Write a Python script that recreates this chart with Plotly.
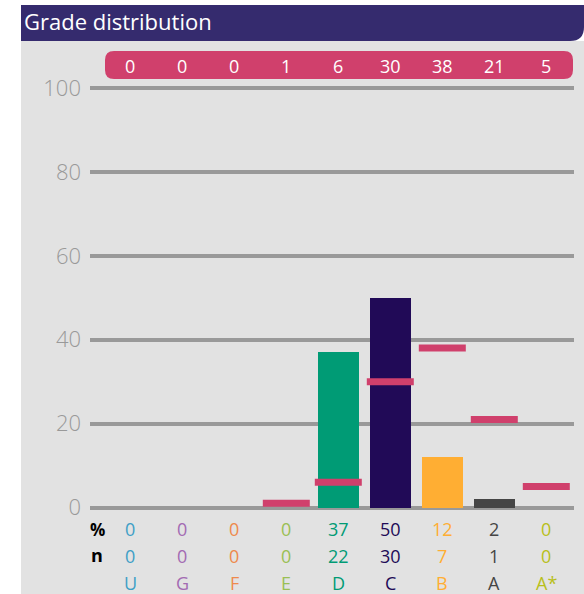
import plotly.graph_objects as go

grades = ["U", "G", "F", "E", "D", "C", "B", "A", "A*"]
pct = [0, 0, 0, 0, 37, 50, 12, 2, 0]
counts = [0, 0, 0, 0, 22, 30, 7, 1, 0]
comparison = [0, 0, 0, 1, 6, 30, 38, 21, 5]
grade_colors = ["#3e9fc6", "#a36bb3", "#ee8a4d", "#9abf54", "#009b75",
                "#210a57", "#ffae33", "#454545", "#b8bf1b"]
y_ticks = [0, 20, 40, 60, 80, 100]

W, H = 584, 594
L, R, T, B = 90, 574, 60, 520
PW, PH = R - L, B - T
FONT = "Open Sans"


def px(x):
    return (x - L) / PW


def py(y):
    return (B - y) / PH


def rrect(x0, y0, x1, y1, r_tl=0, r_tr=0, r_br=0, r_bl=0):
    pts = []
    pts.append(f"M {px(x0 + r_tl)},{py(y0)}")
    pts.append(f"L {px(x1 - r_tr)},{py(y0)}")
    if r_tr:
        pts.append(f"Q {px(x1)},{py(y0)} {px(x1)},{py(y0 + r_tr)}")
    pts.append(f"L {px(x1)},{py(y1 - r_br)}")
    if r_br:
        pts.append(f"Q {px(x1)},{py(y1)} {px(x1 - r_br)},{py(y1)}")
    pts.append(f"L {px(x0 + r_bl)},{py(y1)}")
    if r_bl:
        pts.append(f"Q {px(x0)},{py(y1)} {px(x0)},{py(y1 - r_bl)}")
    pts.append(f"L {px(x0)},{py(y0 + r_tl)}")
    if r_tl:
        pts.append(f"Q {px(x0)},{py(y0)} {px(x0 + r_tl)},{py(y0)}")
    pts.append("Z")
    return " ".join(pts)


xs = list(range(len(grades)))
x0_data = (90 - 130.3) / 52.0
x1_data = x0_data + PW / 52.0
y_per_px = 1 / 4.195
y_top = (507.5 - T) * y_per_px
y_bot = (507.5 - B) * y_per_px

fig = go.Figure()
fig.add_trace(go.Bar(
    x=xs, y=pct, width=0.79,
    marker=dict(color=grade_colors, line=dict(width=0)),
    hoverinfo="skip", showlegend=False,
))
mx = [i for i, v in zip(xs, comparison) if v > 0]
my = [v for v in comparison if v > 0]
fig.add_trace(go.Scatter(
    x=mx, y=my, mode="markers",
    marker=dict(symbol="line-ew", size=47 / 1.4,
                line=dict(width=7, color="#d0406c")),
    hoverinfo="skip", showlegend=False,
))

shapes = [
    # gray panel
    dict(type="rect", xref="paper", yref="paper",
         x0=px(21), x1=px(600), y0=py(41), y1=py(620),
         fillcolor="#e2e2e2", line=dict(width=0), layer="below"),
    # title bar
    dict(type="path", xref="paper", yref="paper",
         path=rrect(21, 5, 584, 41, r_br=14),
         fillcolor="#352b6e", line=dict(width=0), layer="below"),
    # pink comparison bar
    dict(type="path", xref="paper", yref="paper",
         path=rrect(105, 51, 573, 79, 9, 9, 9, 9),
         fillcolor="#d0406c", line=dict(width=0), layer="below"),
]

ann = [dict(xref="paper", yref="paper", x=px(22), y=py(21),
            text="Grade distribution", showarrow=False,
            xanchor="left", yanchor="middle",
            font=dict(family=FONT, size=22, color="white"))]
for i, g in enumerate(grades):
    ann.append(dict(xref="x", yref="paper", x=i, y=py(66),
                    text=str(comparison[i]), showarrow=False,
                    xanchor="center", yanchor="middle",
                    font=dict(family=FONT, size=18, color="white")))
    ann.append(dict(xref="x", yref="paper", x=i, y=py(529),
                    text=str(pct[i]), showarrow=False,
                    xanchor="center", yanchor="middle",
                    font=dict(family=FONT, size=18, color=grade_colors[i])))
    ann.append(dict(xref="x", yref="paper", x=i, y=py(556),
                    text=str(counts[i]), showarrow=False,
                    xanchor="center", yanchor="middle",
                    font=dict(family=FONT, size=18, color=grade_colors[i])))
    ann.append(dict(xref="x", yref="paper", x=i, y=py(583),
                    text=g, showarrow=False,
                    xanchor="center", yanchor="middle",
                    font=dict(family=FONT, size=18, color=grade_colors[i])))
ann.append(dict(xref="paper", yref="paper", x=px(97), y=py(529),
                text="<b>%</b>", showarrow=False, xanchor="center",
                yanchor="middle", font=dict(family=FONT, size=17, color="black")))
ann.append(dict(xref="paper", yref="paper", x=px(97), y=py(555),
                text="<b>n</b>", showarrow=False, xanchor="center",
                yanchor="middle", font=dict(family=FONT, size=18, color="black")))

fig.update_layout(
    width=W, height=H,
    margin=dict(l=L, r=W - R, t=T, b=H - B, pad=0),
    paper_bgcolor="white", plot_bgcolor="rgba(0,0,0,0)",
    shapes=shapes, annotations=ann,
    bargap=0, barmode="overlay",
    xaxis=dict(range=[x0_data, x1_data], showgrid=False, zeroline=False,
               showticklabels=False, showline=False, fixedrange=True),
    yaxis=dict(range=[y_bot, y_top], tickvals=y_ticks,
               showgrid=True, gridcolor="#999999", gridwidth=4,
               zeroline=False, showline=False, ticks="",
               ticklabelstandoff=8,
               tickfont=dict(family=FONT, size=22, color="#999999", weight=300),
               fixedrange=True),
    font=dict(family=FONT),
)

fig.write_html(
    "out.html",
    config={"displayModeBar": False},
    post_script="document.body.style.margin='0';document.body.style.overflow='hidden';",
)
